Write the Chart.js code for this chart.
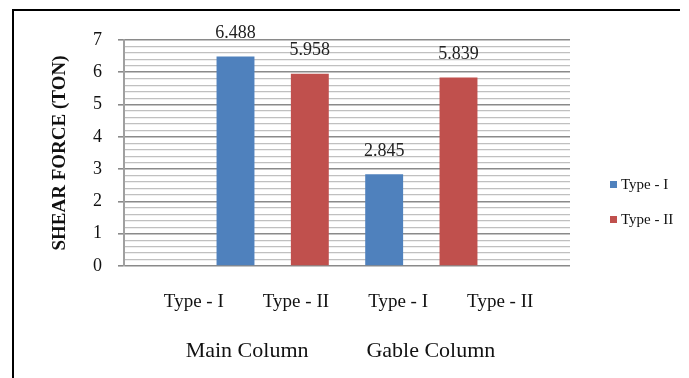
<!DOCTYPE html>
<html>
<head>
<meta charset="utf-8">
<script src="https://cdn.jsdelivr.net/npm/chart.js@4"></script>
<style>
  html, body { margin: 0; padding: 0; background: #fff; }
  #wrap { width: 689px; height: 378px; }
</style>
</head>
<body>
<div id="wrap"><canvas id="shearChart"></canvas></div>
<script>
// column groups and the section type under each bar
const groups = ["Main Column", "Gable Column"];
const categories = ["Type - I", "Type - II", "Type - I", "Type - II"];
// shear force (ton) per bar, null where the series has no bar
const typeI = [6.488, null, 2.845, null];
const typeII = [null, 5.958, null, 5.839];
const seriesNames = ["Type - I", "Type - II"];
const yTicks = [0, 1, 2, 3, 4, 5, 6, 7];

const SERIF = "'Liberation Serif', 'Times New Roman', serif";
const colors = ["#4F81BD", "#C0504D"];

// one empty slot on each side of the bars
const pad = (arr) => [null, ...arr, null];
const slots = ["", ...categories, ""];

const isMajor = (v) => Math.abs(v - Math.round(v)) < 1e-6;

const frame = {
  id: "frame",
  beforeDraw(chart) {
    const { ctx } = chart;
    ctx.save();
    ctx.fillStyle = "#fff";
    ctx.fillRect(0, 0, chart.width, chart.height);
    ctx.strokeStyle = "#000";
    ctx.lineWidth = 2;
    ctx.beginPath();
    ctx.moveTo(13, chart.height);
    ctx.lineTo(13, 10);
    ctx.lineTo(680, 10);
    ctx.stroke();
    ctx.restore();
  },
};

const valueLabels = {
  id: "valueLabels",
  afterDatasetsDraw(chart) {
    const { ctx } = chart;
    ctx.save();
    ctx.font = `18px ${SERIF}`;
    ctx.fillStyle = "#222";
    ctx.textAlign = "center";
    ctx.textBaseline = "bottom";
    chart.data.datasets.forEach((ds, i) => {
      chart.getDatasetMeta(i).data.forEach((bar, j) => {
        const v = ds.data[j];
        if (v == null) return;
        ctx.fillText(v.toFixed(3), bar.x, bar.y - 14);
      });
    });
    ctx.restore();
  },
};

// two-level category axis text under the plot
const axisText = {
  id: "axisText",
  afterDraw(chart) {
    const { ctx, chartArea: a } = chart;
    const w = a.right - a.left;
    const mid = (a.left + a.right) / 2;
    ctx.save();
    ctx.fillStyle = "#111";
    ctx.textAlign = "center";
    ctx.textBaseline = "middle";
    ctx.font = `19px ${SERIF}`;
    categories.forEach((c, i) => {
      ctx.fillText(c, mid + (i - 1.5) * w * 0.229, a.bottom + 36);
    });
    ctx.font = `22px ${SERIF}`;
    groups.forEach((g, i) => {
      ctx.fillText(g, mid - w * 0.018 + (i - 0.5) * w * 0.412, a.bottom + 85);
    });
    ctx.restore();
  },
};

const sideLegend = {
  id: "sideLegend",
  afterDraw(chart) {
    const { ctx, chartArea: a } = chart;
    ctx.save();
    ctx.font = `15px ${SERIF}`;
    ctx.textBaseline = "middle";
    ctx.textAlign = "left";
    chart.data.datasets.forEach((ds, i) => {
      const x = a.right + 40;
      const y = 185 + i * 35;
      ctx.fillStyle = ds.backgroundColor;
      ctx.fillRect(x, y - 4, 7, 7);
      ctx.fillStyle = "#111";
      ctx.fillText(ds.label, x + 11, y);
    });
    ctx.restore();
  },
};

new Chart(document.getElementById("shearChart"), {
  type: "bar",
  data: {
    labels: slots,
    datasets: [
      { label: seriesNames[0], data: pad(typeI), backgroundColor: colors[0] },
      { label: seriesNames[1], data: pad(typeII), backgroundColor: colors[1] },
    ],
  },
  options: {
    responsive: true,
    maintainAspectRatio: false,
    animation: false,
    skipNull: true,
    datasets: {
      bar: { categoryPercentage: 1, barPercentage: 0.51 },
    },
    layout: { padding: { top: 40, right: 119, bottom: 112, left: 0 } },
    plugins: {
      legend: { display: false },
      tooltip: { enabled: false },
    },
    scales: {
      x: {
        display: false,
      },
      y: {
        min: 0,
        max: 7,
        afterFit(scale) {
          scale.width = 124;
        },
        ticks: {
          stepSize: 0.2,
          autoSkip: false,
          padding: 16,
          color: "#111",
          font: { family: SERIF, size: 18 },
          callback: (v) => (isMajor(v) && yTicks.includes(Math.round(v)) ? Math.round(v) : ""),
        },
        grid: {
          color: (c) => (isMajor(c.tick.value) ? "#8a8a8a" : "#c0c0c0"),
          lineWidth: (c) => (isMajor(c.tick.value) ? 1.6 : 1.2),
          tickColor: (c) => (isMajor(c.tick.value) ? "#8a8a8a" : "rgba(0,0,0,0)"),
          tickLength: 6,
        },
        border: { color: "#a0a0a0", width: 2 },
        title: {
          display: true,
          text: "SHEAR FORCE (TON)",
          color: "#111",
          font: { family: SERIF, size: 19, weight: "bold" },
          padding: { top: 49, bottom: 0 },
        },
      },
    },
  },
  plugins: [frame, valueLabels, axisText, sideLegend],
});
</script>
</body>
</html>
